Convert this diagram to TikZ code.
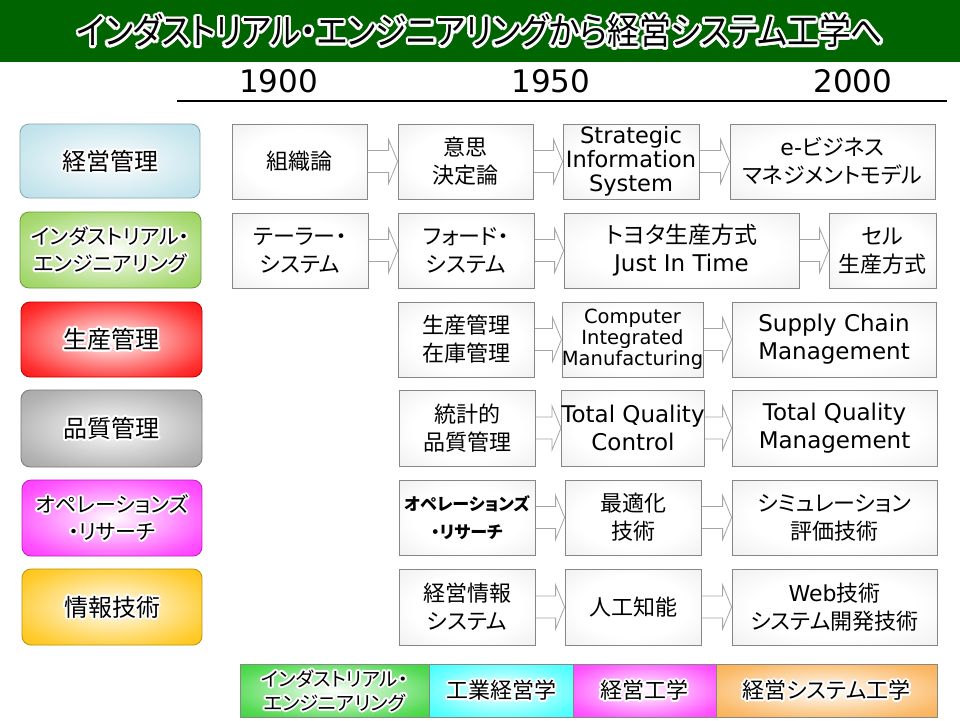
\documentclass[tikz,border=0pt]{standalone}
\usepackage{fontspec}
\newfontfamily\jp{Noto Sans CJK JP}[RawFeature=+palt]
\newfontfamily\lat{DejaVu Sans}
\usetikzlibrary{calc}
\definecolor{titlegreen}{RGB}{0,100,0}
\definecolor{catblue}{RGB}{183,222,232}
\definecolor{catgreen}{RGB}{146,208,80}
\definecolor{catred}{RGB}{255,0,0}
\definecolor{catgray}{RGB}{160,160,160}
\definecolor{catmag}{RGB}{255,40,255}
\definecolor{catorange}{RGB}{255,192,0}
\definecolor{leggreen}{RGB}{45,210,45}
\definecolor{legcyan}{RGB}{51,255,255}
\definecolor{legmag}{RGB}{255,51,255}
\definecolor{legorange}{RGB}{250,170,70}
\definecolor{boxgray}{RGB}{135,135,135}
\definecolor{arrowgray}{RGB}{165,165,165}
\pgfdeclarelayer{bg}
\pgfsetlayers{bg,main}
\newcommand\mkglow[2]{\pgfdeclareradialshading{#1}{\pgfpoint{0bp}{0bp}}{color(0bp)=(white); color(10bp)=(#2!30!white); color(28bp)=(#2!80!white); color(40bp)=(#2); color(50bp)=(#2)}}
\mkglow{shBlue}{catblue}
\mkglow{shGreen}{catgreen}
\mkglow{shRed}{catred}
\mkglow{shGray}{catgray}
\mkglow{shMag}{catmag}
\mkglow{shOrange}{catorange}
\mkglow{shLGreen}{leggreen}
\mkglow{shLCyan}{legcyan}
\mkglow{shLMag}{legmag}
\mkglow{shLOrange}{legorange}
\pgfdeclareradialshading{shBox}{\pgfpoint{0bp}{0bp}}{color(0bp)=(white); color(20bp)=(white); color(50bp)=(black!11)}
\tikzset{
  cbox/.style={draw=boxgray, line width=0.8pt, shade, shading=shBox, inner sep=0pt, align=center, text=black, font=\jp\fontsize{22}{28}\selectfont},
  catbox/.style={draw=#1!75!black, line width=0.8pt, rounded corners=9pt, inner sep=0pt, align=center},
  legbox/.style={draw=boxgray, line width=0.8pt, inner sep=0pt, align=center},
  barr/.style={draw=arrowgray, fill=white, line width=0.8pt},
  glow/.style n args={3}{path picture={
    \foreach \ang in {0,30,...,330}{
      \node[text=white, font=#1, align=center, inner sep=0pt, draw=none, fill=none] at ([shift={(\ang:#3)}]path picture bounding box.center) {#2};}
    \foreach \ang in {0,60,...,300}{
      \node[text=white, font=#1, align=center, inner sep=0pt, draw=none, fill=none] at ([shift={(\ang:#3*0.5)}]path picture bounding box.center) {#2};}
  }},
  lat/.style={font=\lat\fontsize{23}{28}\selectfont},
}
% content box: [opts]{name}{x1}{y1}{x2}{y2}{text}
\newcommand\cb[7][]{%
  \pgfmathsetmacro\bxw{#5-#3}\pgfmathsetmacro\bxh{#6-#4}%
  \pgfmathsetmacro\bxx{(#3+#5)/2}\pgfmathsetmacro\bxy{(#4+#6)/2}%
  \node[cbox,#1,minimum width=\bxw pt,minimum height=\bxh pt] (#2) at (\bxx,\bxy) {#7};}
% glowing box: [opts]{name}{x1}{y1}{x2}{y2}{font}{text}
\newcommand\gb[8][]{%
  \pgfmathsetmacro\bxw{#5-#3}\pgfmathsetmacro\bxh{#6-#4}%
  \pgfmathsetmacro\bxx{(#3+#5)/2}\pgfmathsetmacro\bxy{(#4+#6)/2}%
  \node[#1,minimum width=\bxw pt,minimum height=\bxh pt,font=#7,glow={#7}{#8}{2pt}] (#2) at (\bxx,\bxy) {#8};}
% block arrow between two named boxes
\newcommand\barrow[2]{%
  \begin{pgfonlayer}{bg}
  \path[barr] let \p1=(#1.east), \p2=(#2.west) in
    (\x1-1pt,\y1+11pt) -- (\x2-9pt,\y1+11pt) -- (\x2-9pt,\y1+22pt) -- (\x2,\y1)
    -- (\x2-9pt,\y1-22pt) -- (\x2-9pt,\y1-11pt) -- (\x1-1pt,\y1-11pt) -- cycle;
  \end{pgfonlayer}}
\newcommand\ttl{\scalebox{0.885}[1]{インダストリアル・エンジニアリングから経営システム工学へ}}
\begin{document}
\begin{tikzpicture}[x=1pt,y=-1pt]
\useasboundingbox (0,0) rectangle (960,720);
\begin{pgfonlayer}{bg}
\fill[white] (0,0) rectangle (960,720);
\end{pgfonlayer}
% title
\node[fill=titlegreen, minimum width=960pt, minimum height=62pt, inner sep=0pt,
  font=\jp\fontsize{36}{40}\selectfont,
  glow={\jp\fontsize{36}{40}\selectfont}{\ttl}{2.6pt}] (title) at (480,31) {\ttl};
% years
\node[font=\lat\fontsize{31}{36}\selectfont, inner sep=0pt] (y1900) at (278.5,81) {1900};
\node[font=\lat\fontsize{31}{36}\selectfont, inner sep=0pt] (y1950) at (551,81) {1950};
\node[font=\lat\fontsize{31}{36}\selectfont, inner sep=0pt] (y2000) at (853,81) {2000};
\coordinate (tl) at (177,101);
\coordinate (tr) at (947,101);
\draw[line width=1.1pt] (tl) -- (tr);
% categories
\gb[catbox=catblue, shade, shading=shBlue]{k1}{20}{124}{200}{198}{\jp\fontsize{24}{28}\selectfont}{経営管理}
\gb[catbox=catgreen, shade, shading=shGreen]{k2}{20}{212}{201}{288}{\jp\fontsize{21}{27}\selectfont}{インダストリアル・\\エンジニアリング}
\gb[catbox=catred, shade, shading=shRed]{k3}{21}{302}{202}{377}{\jp\fontsize{24}{28}\selectfont}{生産管理}
\gb[catbox=catgray, shade, shading=shGray]{k4}{21}{390}{202}{467}{\jp\fontsize{24}{28}\selectfont}{品質管理}
\gb[catbox=catmag, shade, shading=shMag]{k5}{22}{480}{202}{556}{\jp\fontsize{21}{27}\selectfont}{オペレーションズ\\・リサーチ}
\gb[catbox=catorange, shade, shading=shOrange]{k6}{22}{569}{202}{645}{\jp\fontsize{24}{28}\selectfont}{情報技術}
% row 1
\cb{a1}{232}{124}{367}{199}{組織論}
\cb{a2}{398}{124}{533}{199}{意思\\決定論}
\cb[font=\lat\fontsize{22.5}{24}\selectfont]{a3}{563}{124}{699}{199}{Strategic\\Information\\System}
\cb{a4}{730}{124}{935}{199}{{\lat e-}ビジネス\\マネジメントモデル}
% row 2
\cb{b1}{232}{213}{368}{288}{テーラー・\\システム}
\cb{b2}{398}{213}{534}{288}{フォード・\\システム}
\cb[font=\jp\fontsize{23}{28}\selectfont]{b3}{564}{213}{799}{288}{トヨタ生産方式\\{\lat Just In Time}}
\cb{b4}{829}{213}{936}{288}{セル\\生産方式}
% row 3
\cb{c2}{398}{302}{534}{377}{生産管理\\在庫管理}
\cb[font=\lat\fontsize{19.5}{21}\selectfont]{c3}{564}{302}{701}{377}{Computer\\Integrated\\Manufacturing}
\cb[lat]{c4}{732}{302}{936}{377}{Supply Chain\\Management}
% row 4
\cb{d2}{399}{390}{535}{466}{統計的\\品質管理}
\cb[lat]{d3}{565}{390}{701}{466}{Total Quality\\Control}
\cb[lat]{d4}{732}{390}{937}{466}{Total Quality\\Management}
% row 5
\cb[font=\jp\fontsize{17}{28}\selectfont\bfseries]{e2}{399}{480}{535}{555}{オペレーションズ\\・リサーチ}
\cb{e3}{565}{480}{701}{555}{最適化\\技術}
\cb{e4}{732}{480}{937}{555}{シミュレーション\\評価技術}
% row 6
\cb{f2}{399}{569}{535}{645}{経営情報\\システム}
\cb{f3}{565}{569}{701}{645}{人工知能}
\cb{f4}{732}{569}{937}{645}{{\lat Web}技術\\システム開発技術}
% arrows
\barrow{a1}{a2}\barrow{a2}{a3}\barrow{a3}{a4}
\barrow{b1}{b2}\barrow{b2}{b3}\barrow{b3}{b4}
\barrow{c2}{c3}\barrow{c3}{c4}
\barrow{d2}{d3}\barrow{d3}{d4}
\barrow{e2}{e3}\barrow{e3}{e4}
\barrow{f2}{f3}\barrow{f3}{f4}
% legend
\gb[legbox, shade, shading=shLGreen]{l1}{240}{664}{429}{717}{\jp\fontsize{19.5}{24}\selectfont}{インダストリアル・\\エンジニアリング}
\gb[legbox, shade, shading=shLCyan]{l2}{429}{664}{573}{717}{\jp\fontsize{22}{26}\selectfont}{工業経営学}
\gb[legbox, shade, shading=shLMag]{l3}{573}{664}{716}{717}{\jp\fontsize{22}{26}\selectfont}{経営工学}
\gb[legbox, shade, shading=shLOrange]{l4}{716}{664}{937}{717}{\jp\fontsize{22}{26}\selectfont}{経営システム工学}
\end{tikzpicture}
\end{document}
